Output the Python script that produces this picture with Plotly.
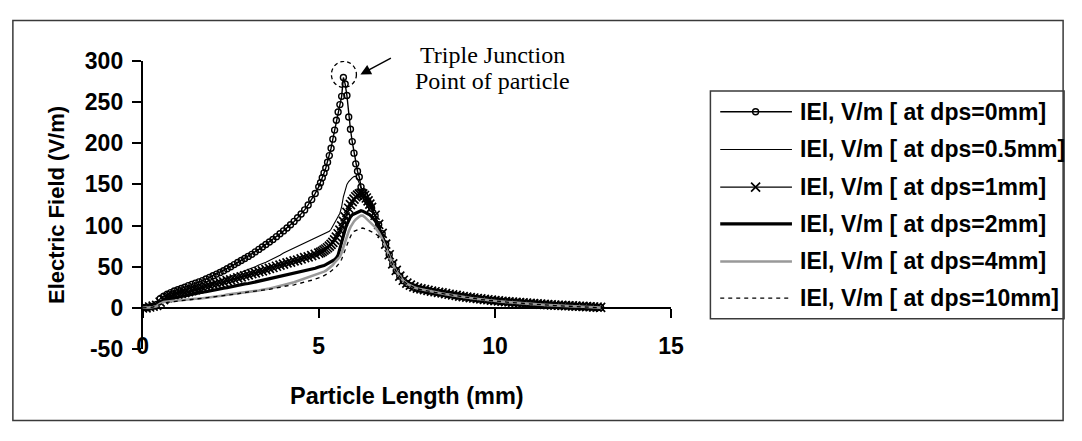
import plotly.graph_objects as go

# Position along the particle (mm)
length_mm = [
    0.0, 0.1, 0.2, 0.3, 0.4, 0.5, 0.6, 0.7, 0.8, 0.9, 1.0, 1.1, 1.2, 1.3, 1.4, 1.5, 1.6,
    1.7, 1.8, 1.9, 2.0, 2.1, 2.2, 2.3, 2.4, 2.5, 2.6, 2.7, 2.8, 2.9, 3.0, 3.1, 3.2, 3.3,
    3.4, 3.5, 3.6, 3.7, 3.8, 3.9, 4.0, 4.1, 4.2, 4.3, 4.4, 4.5, 4.6, 4.7, 4.8, 4.9, 5.0,
    5.05, 5.1, 5.15, 5.2, 5.25, 5.3, 5.35, 5.4, 5.45, 5.5, 5.55, 5.6, 5.65, 5.7, 5.75,
    5.8, 5.85, 5.9, 5.95, 6.0, 6.05, 6.1, 6.15, 6.2, 6.25, 6.3, 6.35, 6.4, 6.45, 6.5,
    6.6, 6.7, 6.8, 6.9, 7.0, 7.1, 7.2, 7.3, 7.4, 7.5, 7.6, 7.7, 7.8, 7.9, 8.0,
    8.1, 8.2, 8.3, 8.4, 8.5, 8.6, 8.7, 8.8, 8.9, 9.0, 9.1, 9.2, 9.3, 9.4, 9.5, 9.6, 9.7,
    9.8, 9.9, 10.0, 10.1, 10.2, 10.3, 10.4, 10.5, 10.6, 10.7, 10.8, 10.9, 11.0, 11.1,
    11.2, 11.3, 11.4, 11.5, 11.6, 11.7, 11.8, 11.9, 12.0, 12.1, 12.2, 12.3, 12.4, 12.5,
    12.6, 12.7, 12.8, 12.9, 13.0,
]

# |E| (V/m) along the particle for each particle-to-spacer distance
e_dps_0mm = [
    0, 0.5, 1, 2, 4, 11, 14, 16.5, 18.5, 20.5, 22, 23.5, 25, 27, 28.5, 30, 31.5, 33, 35, 37,
    39, 41, 43, 45, 47.5, 50, 52.5, 55, 57.5, 60, 62.5, 65, 68, 71, 74, 77, 80, 83, 86.5, 90,
    93.5, 97, 101, 105, 109.5, 114, 119, 125, 131.5, 139, 147,
    152, 158, 164, 170, 177, 185, 194, 205, 216, 228, 238, 247, 257, 280, 272, 258, 232, 217,
    202, 188, 175, 166, 159, 147, 141, 137, 132, 129, 125, 121,
    112, 101, 90, 77.5, 64.5, 53, 45, 38.5, 33, 29.5, 27, 25, 23.5, 22.5, 21.5,
    20.8, 20, 19.2, 18.5, 17.8, 17, 16.2, 15.5, 14.7, 14, 13.4, 12.8, 12.2, 11.6, 11, 10.5,
    10, 9.5, 9, 8.5, 8.1, 7.7, 7.3, 7.0, 6.6, 6.3, 5.9, 5.6, 5.3, 5.0, 4.7, 4.4, 4.1, 3.8,
    3.5, 3.3, 3.0, 2.8, 2.6, 2.4, 2.2, 2.0, 1.8, 1.6, 1.4, 1.2, 1.0, 0.8, 0.5, 0.3,
]
e_dps_05mm = [
    0, 0.5, 1, 1.5, 3, 8, 11, 13, 14.5, 16, 17, 18, 19, 20.5, 22, 23, 24.5, 26, 27.5, 29,
    30.5, 32, 34, 35.5, 37, 38.5, 40, 41.5, 43, 45, 46.5, 48.5, 50, 52, 53.5, 55.5, 57.5,
    59.5, 61.5, 64, 66.5, 68.5, 70.5, 72.5, 74, 76, 78.5, 80.5, 83, 85, 87,
    88, 88.5, 89.5, 90.5, 91.5, 93, 95.5, 99, 103, 107, 111, 115, 123, 135, 144, 150, 153.5,
    156, 158, 159.5, 160, 157, 151, 144, 139.5, 135.5, 131.5, 128, 124.5, 120.5,
    111.5, 100.5, 89.5, 77, 64, 53, 44.5, 38, 33, 29.5, 27, 25, 23.5, 22.5, 21.5,
    20.6, 19.8, 19.0, 18.3, 17.6, 16.8, 16.0, 15.4, 14.6, 13.9, 13.3, 12.7, 12.1, 11.5,
    10.9, 10.4, 9.9, 9.4, 8.9, 8.4, 8.0, 7.6, 7.2, 6.9, 6.5, 6.2, 5.8, 5.5, 5.2, 4.9, 4.6,
    4.3, 4.0, 3.7, 3.4, 3.2, 2.9, 2.7, 2.5, 2.3, 2.1, 1.9, 1.7, 1.5, 1.3, 1.1, 0.9, 0.7,
    0.4, 0.2,
]
e_dps_1mm = [
    0, 0, 1, 2, 3, 7, 10, 12, 13.5, 15, 16.5, 17.5, 18.5, 19.5, 21, 22, 23, 24.5, 26, 27,
    28.5, 29.5, 30.5, 31.5, 33, 34, 35, 36.5, 37.5, 39, 40, 41.5, 42.5, 44, 45, 46.5, 48, 49,
    50.5, 52, 53, 54.5, 55.5, 57, 58, 59.5, 61, 62, 63.5, 65, 66.5,
    67.5, 68.5, 70, 71.5, 73, 75, 77, 79.5, 82.5, 86, 90, 94.5, 99.5, 105, 110.5, 116, 121,
    125.5, 129, 132, 135, 137, 138.5, 139.5, 138.5, 136.5, 133.5, 130, 126, 122,
    112.5, 101.5, 90.5, 77.5, 64.5, 53.5, 45.5, 38.5, 33.5, 30, 27.5, 25.5, 24, 23, 22,
    21.1, 20.3, 19.5, 18.8, 18.1, 17.3, 16.5, 15.8, 15.0, 14.3, 13.7, 13.1, 12.5, 11.9,
    11.3, 10.8, 10.3, 9.8, 9.3, 8.8, 8.4, 8.0, 7.6, 7.3, 6.9, 6.6, 6.2, 5.9, 5.6, 5.3, 5.0,
    4.7, 4.4, 4.1, 3.8, 3.6, 3.3, 3.1, 2.9, 2.7, 2.5, 2.3, 2.1, 1.9, 1.7, 1.5, 1.3, 1.0,
    0.8, 0.5,
]
e_dps_2mm = [
    0, 0, 0.5, 1.5, 2.5, 6, 8.5, 10, 11, 12, 13, 14, 15, 15.5, 16.5, 17.5, 18, 19, 19.5,
    20.5, 21.5, 22, 23, 24, 24.5, 25.5, 26.5, 27, 28, 29, 29.5, 30.5, 31.5, 32, 33, 34, 35,
    35.5, 36.5, 37.5, 38.5, 39.5, 40.5, 41.5, 42.5, 43.5, 44.5, 45.5, 47, 48, 49.5,
    50, 51, 51.5, 52.5, 53.5, 54.5, 55.5, 57, 58.5, 60.5, 64, 72, 81, 89, 95.5, 101.5, 106.5,
    110.5, 113, 114, 115, 116, 117.5, 118, 117.5, 116.5, 115.5, 114.5, 113, 111,
    106, 98, 88.5, 77, 64, 53, 45, 38, 33, 29.5, 27, 25, 23.5, 22.5, 21.5,
    20.8, 20, 19.2, 18.5, 17.8, 17, 16.2, 15.5, 14.7, 14, 13.4, 12.8, 12.2, 11.6, 11, 10.5,
    10, 9.5, 9, 8.5, 8.1, 7.7, 7.3, 7.0, 6.6, 6.3, 5.9, 5.6, 5.3, 5.0, 4.7, 4.4, 4.1, 3.8,
    3.5, 3.3, 3.0, 2.8, 2.6, 2.4, 2.2, 2.0, 1.8, 1.6, 1.4, 1.2, 1.0, 0.8, 0.5, 0.3,
]
e_dps_4mm = [
    0, 0, 0.5, 1, 2, 5, 7, 7.5, 8, 8, 8.5, 9, 9.5, 10, 10.5, 11, 11, 11.5, 12.5, 13, 13.5,
    14, 14.5, 15, 16, 16.5, 17, 17.5, 18, 19, 19.5, 20, 20.5, 21, 22, 22.5, 23.5, 24.5, 25.5,
    27, 28, 29, 30, 31, 32.5, 34, 35.5, 37, 38.5, 40, 41,
    42, 43, 44, 45, 46.5, 48, 50, 52, 55, 57.5, 60, 62, 67, 74, 81, 87, 93, 98, 102, 105,
    107.5, 109.5, 111, 112, 112, 110.5, 108.5, 106.5, 104.5, 102.5,
    98, 92, 84, 74, 63, 52.5, 44.5, 38, 33, 29.5, 27, 25, 23.5, 22.5, 21.5,
    20.5, 19.6, 18.8, 18.1, 17.4, 16.6, 15.8, 15.1, 14.4, 13.7, 13.1, 12.5, 11.9, 11.3,
    10.7, 10.2, 9.7, 9.2, 8.7, 8.3, 7.9, 7.5, 7.1, 6.8, 6.4, 6.1, 5.7, 5.4, 5.1, 4.8, 4.5,
    4.2, 3.9, 3.6, 3.3, 3.1, 2.8, 2.6, 2.4, 2.2, 2.0, 1.8, 1.6, 1.4, 1.2, 1.0, 0.8, 0.6,
    0.4, 0.2,
]
e_dps_10mm = [
    0, 0, 0.5, 1, 2, 4, 5.5, 6.5, 7, 7.5, 8, 8.5, 9, 9.5, 10, 10.5, 11, 11.5, 12, 12.5, 13,
    13.5, 14, 14.5, 15, 16, 16.5, 17, 18, 18.5, 19, 19.5, 20, 21, 21.5, 22, 22.5, 23.5, 24,
    25, 26, 26.5, 27.5, 28, 29, 30, 31, 32, 33.5, 35, 36,
    37, 38, 39, 40, 41.5, 43, 44.5, 46, 48, 50, 52.5, 55, 59, 64, 70, 76, 82, 87, 91, 93,
    94, 95, 96, 96.5, 97, 96.5, 95.5, 94.5, 93.5, 92.5,
    90.5, 87, 82, 73, 62, 52, 44, 37.5, 32.5, 29, 26.5, 24.5, 23, 22, 21,
    20.3, 19.5, 18.7, 18.0, 17.3, 16.5, 15.7, 15.0, 14.3, 13.6, 13.0, 12.4, 11.8, 11.2,
    10.6, 10.1, 9.6, 9.1, 8.6, 8.2, 7.8, 7.4, 7.0, 6.7, 6.3, 6.0, 5.6, 5.3, 5.0, 4.7, 4.4,
    4.1, 3.8, 3.5, 3.2, 3.0, 2.7, 2.5, 2.3, 2.1, 1.9, 1.7, 1.5, 1.3, 1.1, 0.9, 0.7, 0.5,
    0.3, 0.1,
]

series_names = [
    "IEl, V/m [ at dps=0mm]",
    "IEl, V/m [ at dps=0.5mm]",
    "IEl, V/m [ at dps=1mm]",
    "IEl, V/m [ at dps=2mm]",
    "IEl, V/m [ at dps=4mm]",
    "IEl, V/m [ at dps=10mm]",
]
series_values = [e_dps_0mm, e_dps_05mm, e_dps_1mm, e_dps_2mm, e_dps_4mm, e_dps_10mm]

x_ticks = [0, 5, 10, 15]
y_ticks = [-50, 0, 50, 100, 150, 200, 250, 300]
x_range = [0, 15]
y_range = [-50, 300]

# ---- page geometry (pixels) ----
W, H = 1082, 441
PLOT_L, PLOT_R, PLOT_T, PLOT_B = 139, 677, 51, 357
LEG_L, LEG_R, LEG_T, LEG_B = 717, 1077, 83, 325


def fx(px):
    return px / W


def fy(py):
    return 1 - py / H


SANS = "Liberation Sans"
SERIF = "Liberation Serif"

styles = [
    dict(mode="lines+markers", line=dict(color="black", width=1.4),
         marker=dict(symbol="circle-open", size=6, color="black", line=dict(width=1.4))),
    dict(mode="lines", line=dict(color="black", width=1.1)),
    dict(mode="lines+markers", line=dict(color="black", width=1.1),
         marker=dict(symbol="x-thin", size=9, color="black", line=dict(width=1.7, color="black"))),
    dict(mode="lines", line=dict(color="black", width=3.2)),
    dict(mode="lines", line=dict(color="#999999", width=2.6)),
    dict(mode="lines", line=dict(color="black", width=1.3, dash="4px,4px")),
]

fig = go.Figure()

for name, vals, st in zip(series_names, series_values, styles):
    fig.add_trace(go.Scatter(x=length_mm, y=vals, name=name, showlegend=False,
                             xaxis="x", yaxis="y", **st))

# ---- key drawn in its own unit box ----
row_px = [105, 145, 185, 224, 264, 303]
leg_h = LEG_B - LEG_T
leg_w = LEG_R - LEG_L
sample_x0 = (727 - LEG_L) / leg_w
sample_x1 = (800 - LEG_L) / leg_w
sample_xm = (763 - LEG_L) / leg_w
text_x = (806 - LEG_L) / leg_w

annotations = []
for name, st, rp in zip(series_names, styles, row_px):
    ry = (LEG_B - rp) / leg_h
    fig.add_trace(go.Scatter(x=[sample_x0, sample_x1], y=[ry, ry], mode="lines",
                             line=st["line"], showlegend=False, hoverinfo="skip",
                             xaxis="x2", yaxis="y2"))
    if "marker" in st:
        fig.add_trace(go.Scatter(x=[sample_xm], y=[ry], mode="markers",
                                 marker=st["marker"], showlegend=False, hoverinfo="skip",
                                 xaxis="x2", yaxis="y2"))
    annotations.append(dict(
        text=name, x=text_x, y=ry, xref="x2", yref="y2", xanchor="left", yanchor="middle",
        showarrow=False, font=dict(family=SANS, size=23, color="black", weight="bold"),
    ))

# ---- peak call-out ----
peak_val = max(e_dps_0mm)
peak_x = length_mm[e_dps_0mm.index(peak_val)]

annotations.append(dict(
    x=peak_x, y=peak_val, xref="x", yref="y", text="", showarrow=True,
    xshift=17, yshift=3, ax=32, ay=-17, arrowhead=2, arrowsize=1.5, arrowwidth=1.4,
    arrowcolor="black",
))
for line_text, line_y in (("Triple Junction", 45), ("Point of particle", 72)):
    annotations.append(dict(
        text=line_text, x=fx(495), y=fy(line_y),
        xref="paper", yref="paper", xanchor="center", yanchor="middle", showarrow=False,
        font=dict(family=SERIF, size=24, color="black"),
    ))

y_dom = [fy(PLOT_B), fy(PLOT_T)]
zero_pos = y_dom[0] + (0 - y_range[0]) / (y_range[1] - y_range[0]) * (y_dom[1] - y_dom[0])

shapes = [
    # outer frame
    dict(type="rect", xref="paper", yref="paper", x0=fx(7), x1=fx(1076), y0=fy(433), y1=fy(8),
         line=dict(color="#3a3a3a", width=1.5), layer="below"),
    # key frame
    dict(type="rect", xref="paper", yref="paper", x0=fx(LEG_L), x1=fx(LEG_R),
         y0=fy(LEG_B), y1=fy(LEG_T), line=dict(color="#3a3a3a", width=1.5), layer="below"),
    # dashed ring around the peak
    dict(type="circle", xref="x", yref="y", xsizemode="pixel", ysizemode="pixel",
         xanchor=peak_x, yanchor=peak_val, x0=-12, x1=13, y0=-10, y1=16,
         line=dict(color="black", width=1.3, dash="4px,3px")),
]

tick_font = dict(family=SANS, size=23, color="black", weight="bold")

fig.update_layout(
    width=W, height=H, autosize=False,
    margin=dict(l=0, r=0, t=0, b=0),
    paper_bgcolor="white", plot_bgcolor="white",
    showlegend=False,
    xaxis=dict(
        domain=[fx(PLOT_L), fx(PLOT_R)], range=x_range, anchor="free", position=zero_pos,
        tickvals=x_ticks, ticktext=[str(v) for v in x_ticks],
        ticks="outside", ticklen=9, tickwidth=1.5, tickcolor="black",
        showline=True, linecolor="black", linewidth=1.5, showgrid=False, zeroline=False,
        tickfont=tick_font, ticklabelstandoff=9, layer="below traces",
        title=dict(text="Particle Length (mm)", standoff=28,
                   font=dict(family=SANS, size=23.5, color="black", weight="bold")),
    ),
    yaxis=dict(
        domain=y_dom, range=y_range, anchor="x",
        tickvals=y_ticks, ticktext=[str(v) for v in y_ticks],
        ticks="outside", ticklen=9, tickwidth=1.5, tickcolor="black",
        showline=True, linecolor="black", linewidth=1.5, showgrid=False, zeroline=False,
        tickfont=tick_font, ticklabelstandoff=4, layer="below traces",
        title=dict(text="Electric Field (V/m)", standoff=14,
                   font=dict(family=SANS, size=22, color="black", weight="bold")),
    ),
    xaxis2=dict(domain=[fx(LEG_L), fx(LEG_R)], range=[0, 1], visible=False,
                anchor="y2", fixedrange=True),
    yaxis2=dict(domain=[fy(LEG_B), fy(LEG_T)], range=[0, 1], visible=False,
                anchor="x2", fixedrange=True),
    annotations=annotations,
    shapes=shapes,
)

fig.write_html("out.html")
